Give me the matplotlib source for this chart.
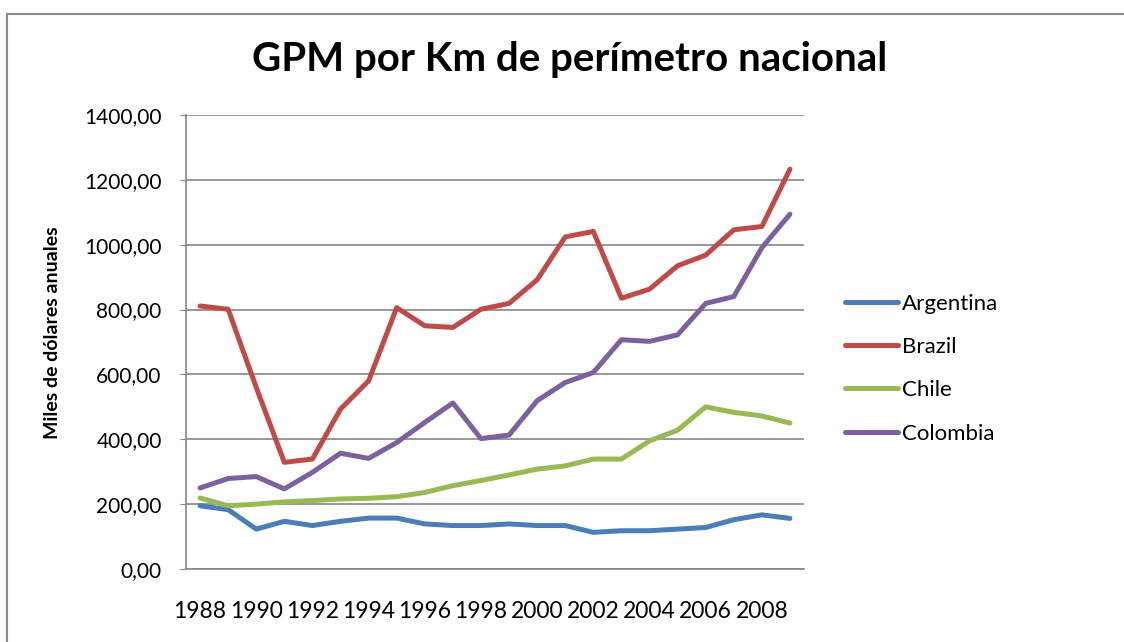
import matplotlib.pyplot as plt
from matplotlib.patches import Rectangle

years = list(range(1988, 2010))
argentina = [195, 183, 123, 147, 134, 147, 157, 157, 139, 134, 134,
             139, 134, 134, 113, 118, 118, 123, 128, 152, 167, 156]
brazil = [811, 801, 560, 329, 339, 493, 580, 806, 750, 745, 801,
          819, 892, 1024, 1041, 835, 863, 935, 968, 1046, 1056, 1233]
chile = [219, 195, 200, 207, 211, 216, 218, 223, 236, 257, 273,
         290, 308, 318, 339, 339, 395, 428, 500, 483, 472, 450]
colombia = [250, 279, 285, 247, 298, 357, 341, 390, 452, 512, 402,
            413, 519, 575, 606, 707, 702, 722, 819, 840, 991, 1094]

series = ['Argentina', 'Brazil', 'Chile', 'Colombia']
colors = ['#4A7EBB', '#BE4B48', '#98B954', '#7D60A0']
yticks = [0, 200, 400, 600, 800, 1000, 1200, 1400]
xticks = list(range(1988, 2010, 2))

plt.rcParams['font.family'] = ['Lato', 'DejaVu Sans']

fig = plt.figure(figsize=(11.24, 6.42), dpi=100)
# chart border (cut off on the right and bottom)
fig.patches.append(Rectangle((7 / 1124, -0.1), 1.2, 1 - 14 / 642 + 0.1,
                             transform=fig.transFigure, fill=False,
                             edgecolor='#8c8c8c', linewidth=1.5))

ax = fig.add_axes([186 / 1124, 1 - 569 / 642, (804 - 186) / 1124, (569 - 115) / 642])

for name, vals, c in zip(series, [argentina, brazil, chile, colombia], colors):
    ax.plot(years, vals, color=c, linewidth=3.6, label=name, solid_capstyle='round')

ax.set_ylim(0, 1400)
ax.set_xlim(1987.5, 2009.5)
ax.set_yticks(yticks)
ax.set_yticklabels([f"{v:.2f}".replace('.', ',') for v in yticks])
ax.set_xticks(xticks)
ax.set_xticklabels([str(y) for y in xticks])
ax.grid(axis='y', color='#868686', linewidth=1.2)
ax.set_axisbelow(True)
for s in ['top', 'right']:
    ax.spines[s].set_visible(False)
for s in ['left', 'bottom']:
    ax.spines[s].set_color('#868686')
    ax.spines[s].set_linewidth(1.2)
ax.tick_params(axis='y', length=4, color='#868686', pad=13.5, labelsize=15)
ax.tick_params(axis='x', length=0, pad=23, labelsize=16.5)

fig.text(570 / 1124, 1 - 60 / 642, 'GPM por Km de perímetro nacional',
         ha='center', va='center', fontsize=29, fontweight='bold')
fig.text(53 / 1124, 1 - 333 / 642, 'Miles de dólares anuales',
         ha='center', va='center', rotation=90, fontsize=14, fontweight='bold')

ax.legend(loc='center left', bbox_to_anchor=(845 / 1124, 1 - 368.5 / 642),
          bbox_transform=fig.transFigure, frameon=False, fontsize=16,
          handlelength=2.4, handletextpad=0.15, labelspacing=1.05,
          borderpad=0, borderaxespad=0)

fig.savefig('out.png', dpi=100)
